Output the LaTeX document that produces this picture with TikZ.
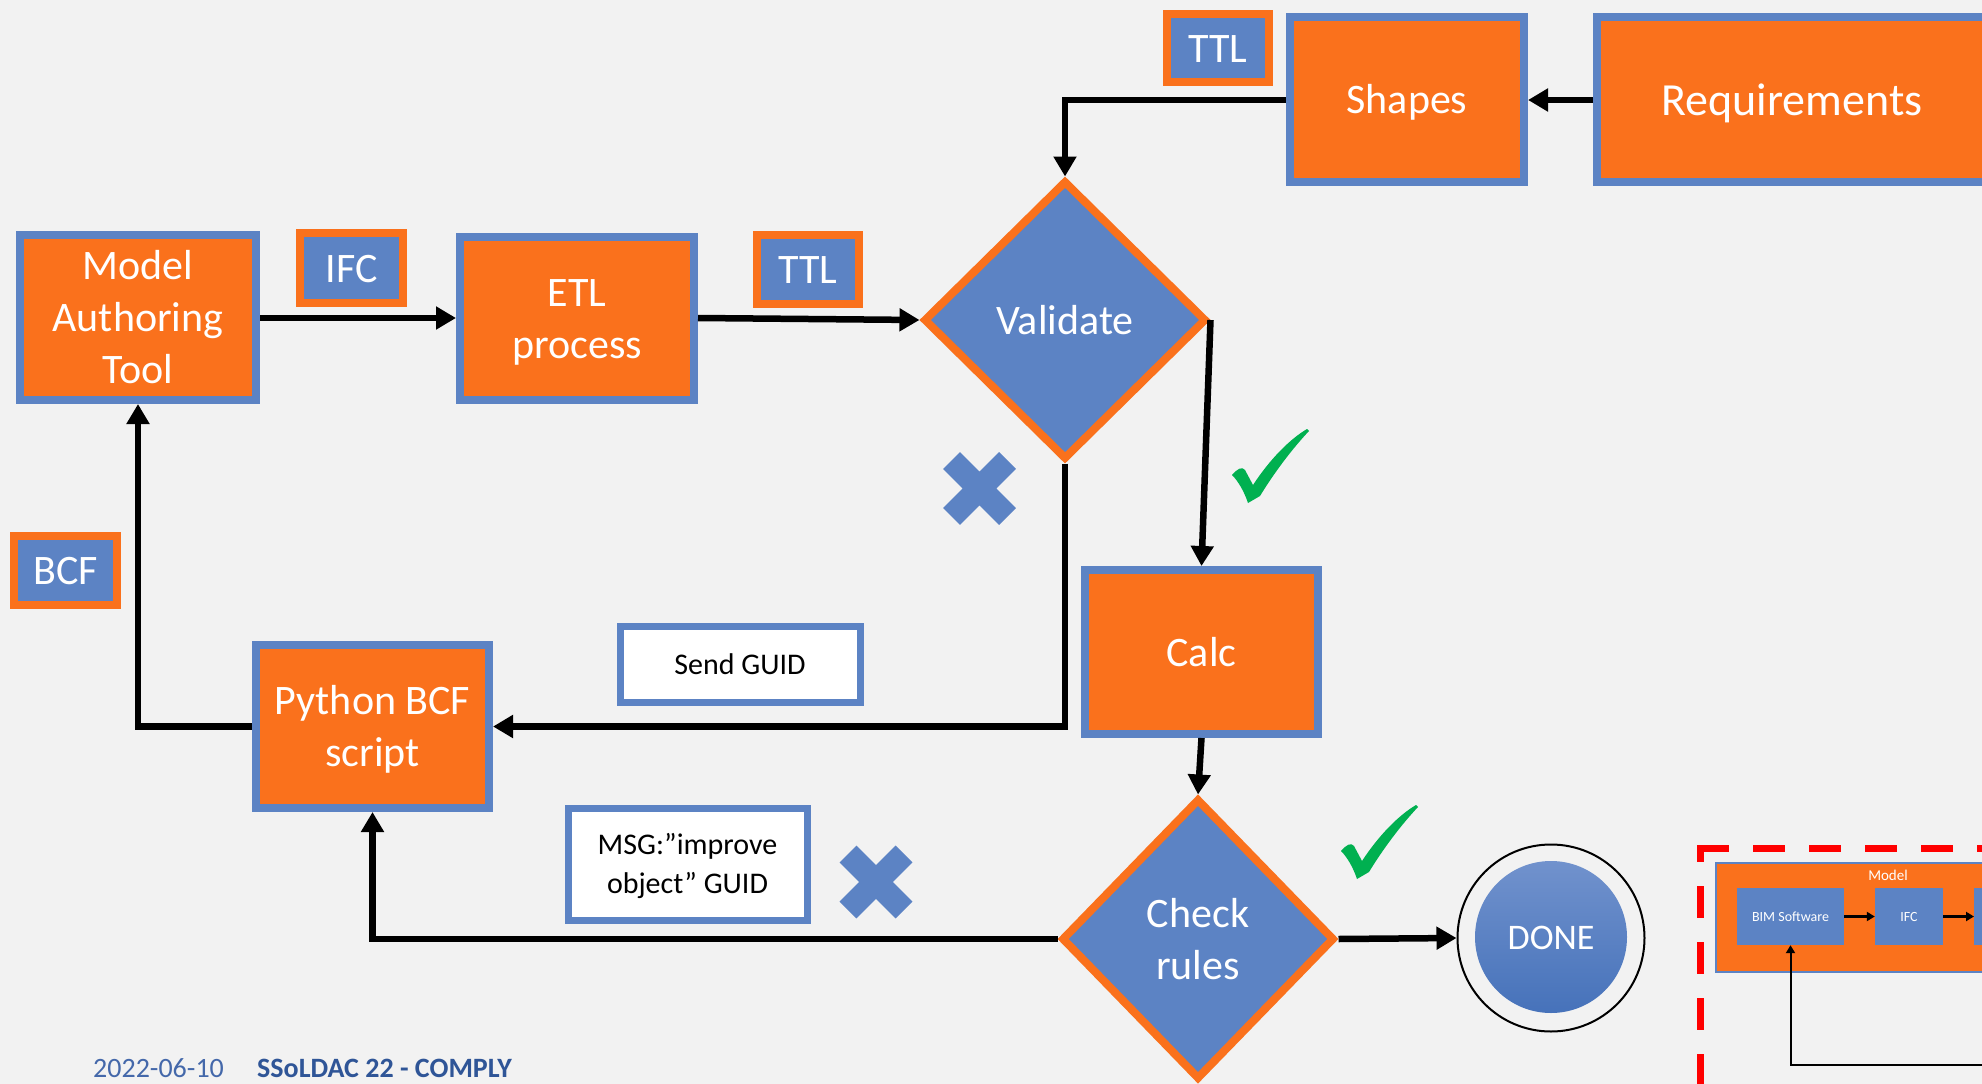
\documentclass[tikz,border=0pt]{standalone}
\usepackage{fontspec}
\setmainfont{Carlito}
\usetikzlibrary{arrows.meta,shapes.geometric}

\definecolor{boxorange}{RGB}{250,113,28}
\definecolor{boxblue}{RGB}{92,131,196}
\definecolor{canvas}{RGB}{242,242,242}
\definecolor{okgreen}{RGB}{0,176,80}
\definecolor{framered}{RGB}{255,0,0}
\definecolor{datecol}{RGB}{68,104,170}
\definecolor{titlecol}{RGB}{47,85,151}
\definecolor{donetop}{RGB}{113,146,205}
\definecolor{donebot}{RGB}{70,114,186}

% line box of the label font: taller ascent, so text sits a little lower
\newcommand\linestrut{\vrule height 0.93em depth 0.24em width 0pt}

\tikzset{
  bigtext/.style={font=\fontsize{42}{52}\selectfont},
  struts/.style={execute at begin node=\linestrut, execute at end node=\linestrut},
  procbox/.style={rectangle, fill=boxorange, draw=boxblue, line width=8pt,
    text=white, bigtext, align=center, inner sep=0pt, struts},
  tagbox/.style={rectangle, fill=boxblue, draw=boxorange, line width=8pt,
    text=white, bigtext, inner sep=0pt, struts},
  notebox/.style={rectangle, fill=white, draw=boxblue, line width=7pt,
    text=black, font=\fontsize{30}{39}\selectfont, align=center, inner sep=0pt, struts},
  decision/.style={diamond, fill=boxblue, draw=boxorange, line width=8pt,
    text=white, bigtext, align=center, inner sep=0pt, struts},
  flow/.style={draw=black, line width=6.5pt, -{Triangle[length=20pt,width=22pt]}},
  miniflow/.style={draw=black, line width=2.5pt, -{Triangle[length=8pt,width=9pt]}},
  minibox/.style={rectangle, fill=boxblue, text=white,
    font=\fontsize{14}{16}\selectfont, inner sep=0pt, minimum height=57pt},
  tick/.pic={
    \fill[okgreen] (0,46) .. controls (5,40) and (10,37) .. (13,41)
      -- (21,56) .. controls (38,30) and (58,10) .. (75,0) -- (77,2)
      .. controls (60,20) and (42,44) .. (28,67) -- (16,74)
      .. controls (12,62) and (6,52) .. (0,46) -- cycle;
  },
  cross/.pic={
    \draw[boxblue, line width=24pt] (-28,-28) -- (28,28) (-28,28) -- (28,-28);
  }
}

\begin{document}
\begin{tikzpicture}[x=1pt, y=-1pt]
\useasboundingbox (0,0) rectangle (1982,1084);
\clip (0,0) rectangle (1982,1084);
\fill[canvas] (0,0) rectangle (1982,1084);

% process boxes
\node[procbox, minimum width=236pt, minimum height=165pt] (mat) at (138,317.5) {\linestrut Model\\Authoring\\Tool\linestrut};
\node[procbox, minimum width=234pt, minimum height=163pt] (etl) at (577,318.5) {\linestrut ETL\\process\linestrut};
\node[procbox, minimum width=234pt, minimum height=165pt] (shapes) at (1407,99.5) {Shapes};
\node[procbox, minimum width=390pt, minimum height=165pt, font=\fontsize{46}{52}\selectfont] (req) at (1792,99.5) {Requirements};
\node[procbox, minimum width=233pt, minimum height=163pt] (python) at (372.5,726.5) {\linestrut Python BCF\\script\linestrut};
\node[procbox, minimum width=233pt, minimum height=164pt] (calc) at (1201.5,652) {Calc};

% data format tags
\node[tagbox, minimum width=103pt, minimum height=70pt] (tagifc) at (351.5,268) {IFC};
\node[tagbox, minimum width=102pt, minimum height=69pt] (tagttl) at (808,269.5) {TTL};
\node[tagbox, minimum width=102pt, minimum height=68pt] (tagttltop) at (1218,48) {TTL};
\node[tagbox, minimum width=103pt, minimum height=69pt] (tagbcf) at (65.5,570.5) {BCF};

% messages
\node[notebox, minimum width=240pt, minimum height=76pt] (sendguid) at (740,664) {Send GUID};
\node[notebox, minimum width=239pt, minimum height=112pt] (msg) at (687.5,864) {\linestrut MSG:”improve\\object” GUID\linestrut};

% decisions
\node[decision, minimum width=283pt, minimum height=279pt] (validate) at (1065,320) {Validate};
\node[decision, minimum width=273pt, minimum height=281pt] (check) at (1198,939) {\linestrut Check\\rules\linestrut};

% end state
\node[circle, draw=black, line width=2pt, minimum size=187pt, inner sep=0pt] (done) at (1551,938) {};
\node[circle, top color=donetop, bottom color=donebot, minimum size=152pt, inner sep=0pt,
  text=white, font=\fontsize{36}{40}\selectfont, struts] (doneinner) at (1551,937) {DONE};

% flow connectors
\draw[flow] (mat.east |- 0,318) -- (etl.west |- 0,318);
\draw[flow] (etl.east |- 0,318) -- (validate.west);
\draw[flow] (req.west |- 0,100) -- (shapes.east |- 0,100);
\draw[flow] (shapes.west |- 0,100) -| (validate.north);
\draw[flow] (validate.east) -- (calc.north);
\draw[flow] (validate.south) |- (python.east);
\draw[flow] (python.west) -| (mat.south);
\draw[flow] (calc.south) -- (check.north);
\draw[flow] (check.west) -| (python.south);
\draw[flow] (check.east) -- (done.west);

% outcome marks
\pic at (979.5,488.5) {cross};
\pic at (876,882) {cross};
\pic at (1232,429) {tick};
\pic at (1341,805) {tick};

% model detail frame
\node[rectangle, anchor=north west, fill=boxorange, draw=boxblue, line width=1.5pt,
  minimum width=346pt, minimum height=109pt, inner sep=0pt] (inmodel) at (1715,862) {};
\node[text=white, font=\fontsize{15}{17}\selectfont, inner sep=0pt] (inmodellabel) at (1888,875) {Model};
\node[minibox, minimum width=107pt] (inbim) at (1790.5,916.5) {BIM Software};
\node[minibox, minimum width=68pt] (inifc) at (1909,916.5) {IFC};
\node[minibox, minimum width=60pt, anchor=west] (innext) at (1974,916.5) {};
\draw[miniflow] (inbim) -- (inifc);
\draw[miniflow] (inifc) -- (innext);
\coordinate (fbend) at (1995,1065);
\draw[draw=black, line width=2pt, -{Triangle[length=8pt,width=9pt]}] (fbend) -| (inbim.south);
\draw[framered, line width=7pt, dash pattern=on 32pt off 24pt] (1697,848.5) -- (1995,848.5);
\draw[framered, line width=7pt, dash pattern=on 32pt off 24pt, dash phase=15pt] (1700.5,845) -- (1700.5,1100);

% footer
\node[anchor=base west, inner sep=0pt, text=datecol, font=\fontsize{28}{30}\selectfont] (date) at (93,1077) {2022-06-10};
\node[anchor=base west, inner sep=0pt, text=titlecol, font=\fontsize{28}{30}\selectfont\bfseries] (title) at (257,1077) {SSoLDAC 22 - COMPLY};
\end{tikzpicture}
\end{document}
